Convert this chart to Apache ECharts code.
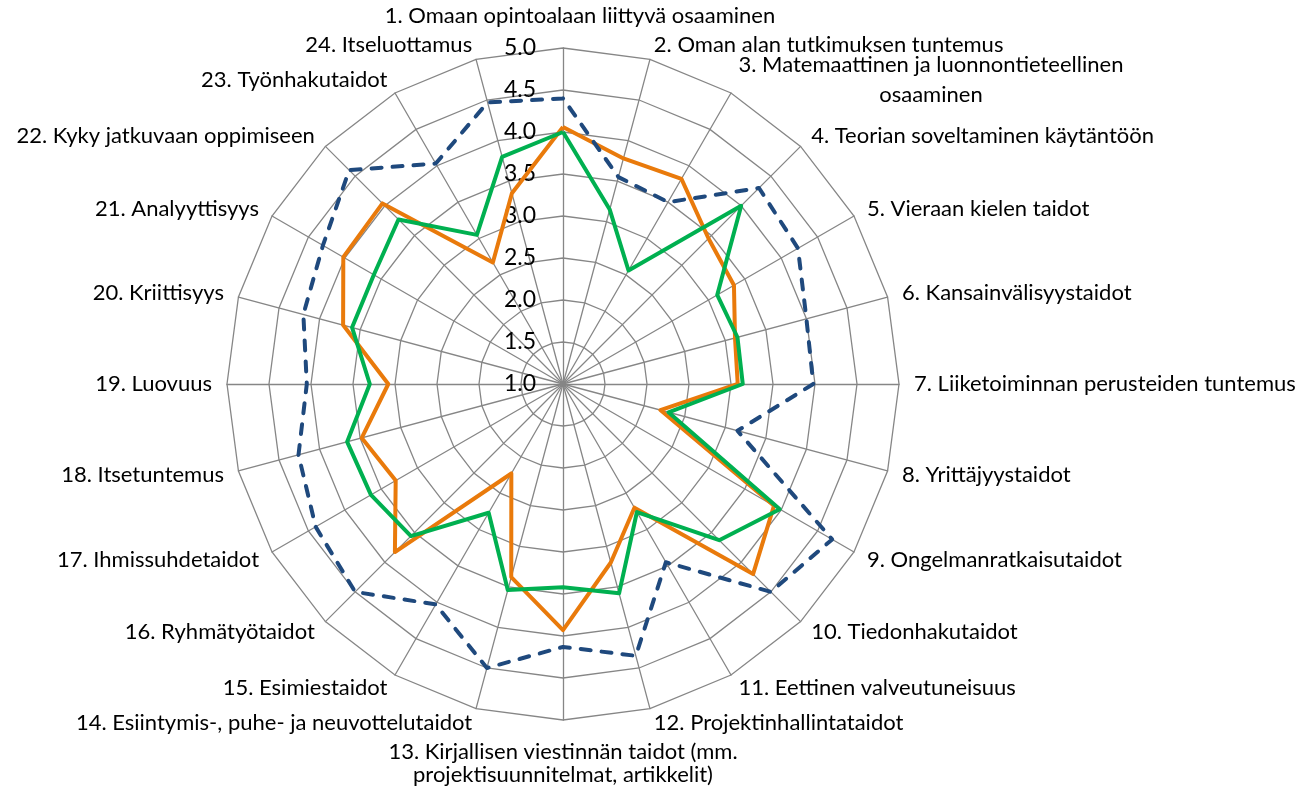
<!DOCTYPE html>
<html><head><meta charset="utf-8">
<script src="https://cdn.jsdelivr.net/npm/echarts@6/dist/echarts.min.js"></script>
<style>html,body{margin:0;padding:0;background:#fff}#c{width:1309px;height:792px}</style>
</head><body><div id="c"></div>
<script>
const categories = [
  '1. Omaan opintoalaan liittyvä osaaminen',
  '2. Oman alan tutkimuksen tuntemus',
  '3. Matemaattinen ja luonnontieteellinen\nosaaminen',
  '4. Teorian soveltaminen käytäntöön',
  '5. Vieraan kielen taidot',
  '6. Kansainvälisyystaidot',
  '7. Liiketoiminnan perusteiden tuntemus',
  '8. Yrittäjyystaidot',
  '9. Ongelmanratkaisutaidot',
  '10. Tiedonhakutaidot',
  '11. Eettinen valveutuneisuus',
  '12. Projektinhallintataidot',
  '13. Kirjallisen viestinnän taidot (mm.\nprojektisuunnitelmat, artikkelit)',
  '14. Esiintymis-, puhe- ja neuvottelutaidot',
  '15. Esimiestaidot',
  '16. Ryhmätyötaidot',
  '17. Ihmissuhdetaidot',
  '18. Itsetuntemus',
  '19. Luovuus',
  '20. Kriittisyys',
  '21. Analyyttisyys',
  '22. Kyky jatkuvaan oppimiseen',
  '23. Työnhakutaidot',
  '24. Itseluottamus'
];
const seriesDashed = [4.4, 3.55, 3.5, 4.3, 4.23, 4.0, 3.98, 3.15, 4.7, 4.5, 3.45, 4.35, 4.13, 4.5, 4.03, 4.5, 4.4, 4.26, 4.05, 4.2, 4.3, 4.6, 4.03, 4.47];
const seriesOrange = [4.06, 3.78, 3.82, 3.45, 3.35, 3.12, 3.08, 2.2, 3.9, 4.2, 2.7, 3.2, 3.93, 3.38, 2.23, 3.83, 3.3, 3.48, 3.08, 3.71, 4.02, 4.04, 2.67, 3.35];
const seriesGreen = [4.0, 3.15, 2.56, 4.0, 3.12, 3.15, 3.14, 2.3, 3.98, 3.63, 2.76, 3.58, 3.42, 3.54, 2.77, 3.56, 3.64, 3.66, 3.3, 3.6, 3.6, 3.77, 3.05, 3.8];
const axisMin = 1, axisMax = 5, splitCount = 8;

// ECharts places radar indicators counter-clockwise; reorder so they run clockwise.
const order = [0].concat(categories.map((_, i) => i).slice(1).reverse());
const reorder = arr => order.map(i => arr[i]);

const FONT = 'Lato';
const NAME_SIZE = 22;
const chart = echarts.init(document.getElementById('c'));
const option = {
  animation: false,
  backgroundColor: '#fff',
  radar: {
    center: [563, 384],
    radius: 336,
    startAngle: 90,
    shape: 'polygon',
    splitNumber: splitCount,
    nameGap: 15,
    indicator: reorder(categories).map((n, i) => ({
      name: n, min: axisMin, max: axisMax,
      axisLabel: { show: i === 0 }
    })),
    axisName: {
      color: '#000', fontSize: NAME_SIZE, fontFamily: FONT,
      formatter: function (v) {
        if (v.indexOf('1. Omaan') === 0) return '{t|' + v + '}';
        if (v.indexOf('13.') === 0) {
          const p = v.split('\n');
          return '{b1|' + p[0] + '}\n{b2|' + p[1] + '}';
        }
        if (v.indexOf('\n') >= 0) {
          return v.split('\n').map(l => '{c|' + l + '}').join('\n');
        }
        return v;
      },
      rich: {
        t: { color: '#000', fontSize: NAME_SIZE, fontFamily: FONT, padding: [0, 0, 6, 34] },
        c: { color: '#000', fontSize: NAME_SIZE, fontFamily: FONT, align: 'center', lineHeight: 30 },
        b1: { color: '#000', fontSize: NAME_SIZE, fontFamily: FONT, align: 'center', lineHeight: 34 },
        b2: { color: '#000', fontSize: NAME_SIZE, fontFamily: FONT, align: 'center', lineHeight: 12 }
      }
    },
    axisLine: { lineStyle: { color: '#868686', width: 1.3 } },
    splitLine: { lineStyle: { color: '#868686', width: 1.3 } },
    splitArea: { show: false },
    axisTick: { show: false },
    axisLabel: {
      show: false, color: '#000', fontSize: 23, fontFamily: FONT, margin: 27,
      formatter: v => Number(v).toFixed(1)
    }
  },
  series: [{
    type: 'radar',
    symbol: 'none',
    data: [
      { value: reorder(seriesOrange), lineStyle: { color: '#E97A0B', width: 4 } },
      { value: reorder(seriesGreen), lineStyle: { color: '#00B050', width: 4 } },
      { value: reorder(seriesDashed), lineStyle: { color: '#1F497D', width: 4, type: [10, 11], cap: 'round' } }
    ]
  }]
};
chart.setOption(option);
</script>
</body></html>
